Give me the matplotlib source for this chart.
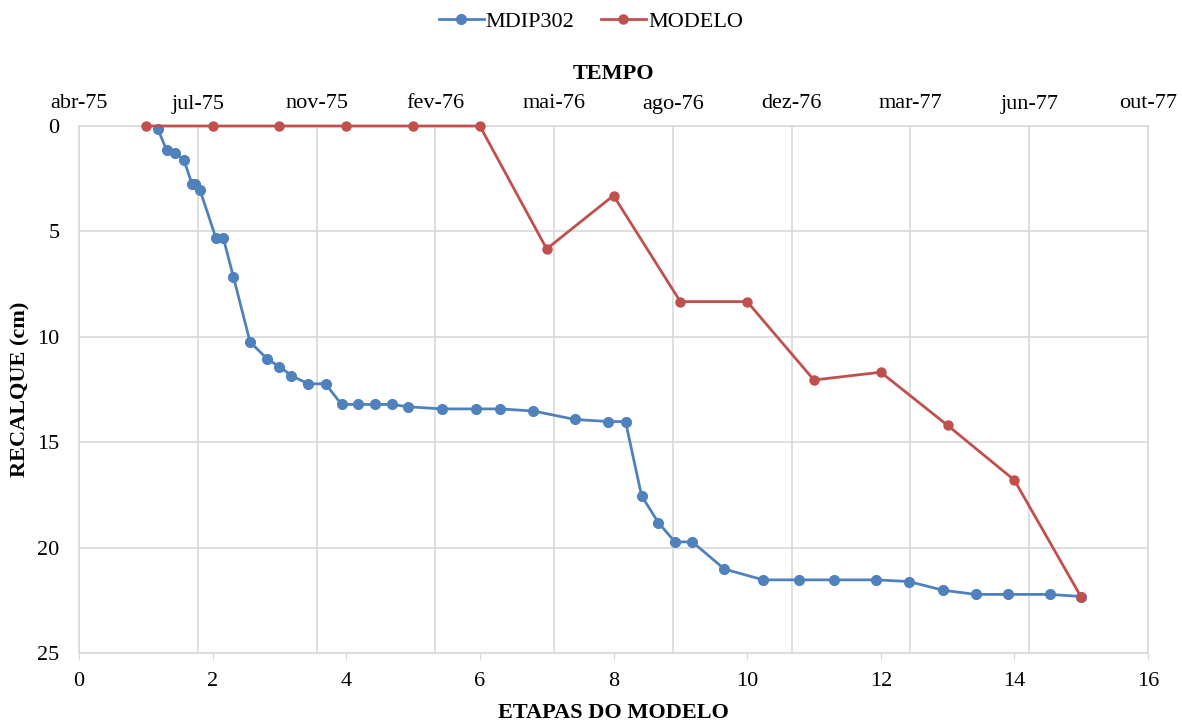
import matplotlib
matplotlib.use("Agg")
import matplotlib.pyplot as plt
import numpy as np

plt.rcParams['font.family'] = ['Liberation Serif', 'DejaVu Serif']

# MDIP302 (measured), x in model-stage units
mdip_x = [1.18, 1.31, 1.44, 1.57, 1.69, 1.74, 1.81, 2.05, 2.16, 2.31, 2.56, 2.81,
          3.00, 3.18, 3.43, 3.69, 3.93, 4.17, 4.43, 4.68, 4.93, 5.43, 5.94, 6.30,
          6.80, 7.42, 7.92, 8.18, 8.42, 8.67, 8.92, 9.18, 9.66, 10.24, 10.78,
          11.30, 11.93, 12.42, 12.93, 13.42, 13.90, 14.53, 15.00]
mdip_y = [0.13, 1.15, 1.30, 1.62, 2.73, 2.73, 3.03, 5.32, 5.32, 7.14, 10.24, 11.03,
          11.42, 11.84, 12.23, 12.23, 13.21, 13.21, 13.21, 13.21, 13.32, 13.42, 13.42, 13.42,
          13.52, 13.92, 14.02, 14.02, 17.54, 18.81, 19.73, 19.73, 21.02, 21.53, 21.53,
          21.53, 21.53, 21.61, 22.02, 22.22, 22.22, 22.22, 22.32]

# MODELO
modelo_x = [1, 2, 3, 4, 5, 6, 7, 8, 9, 10, 11, 12, 13, 14, 15]
modelo_y = [0, 0, 0, 0, 0, 0, 5.83, 3.30, 8.33, 8.33, 12.05, 11.68, 14.20, 16.80, 22.35]

tempo_labels = ['abr-75', 'jul-75', 'nov-75', 'fev-76', 'mai-76', 'ago-76',
                'dez-76', 'mar-77', 'jun-77', 'out-77']

blue = '#4F81BD'
red = '#C0504D'
grid_c = '#D9D9D9'
fs = 16

fig = plt.figure(figsize=(11.82, 7.22), dpi=100)
ax = fig.add_axes([79 / 1182, 1 - 653 / 722, (1148 - 79) / 1182, (653 - 126) / 722])

ax.plot(mdip_x, mdip_y, color=blue, lw=2, marker='o', ms=7, label='MDIP302',
        zorder=3, clip_on=False)
ax.plot(modelo_x, modelo_y, color=red, lw=2, marker='o', ms=6.5, label='MODELO',
        zorder=4, clip_on=False)

ax.set_xlim(0, 16)
ax.set_ylim(25, 0)
ax.set_xticks(np.arange(0, 17, 2))
ax.set_yticks(np.arange(0, 26, 5))
ax.tick_params(axis='x', direction='out', length=5, color=grid_c, labelsize=fs, pad=9)
ax.tick_params(axis='y', length=0, labelsize=fs, pad=14)
ax.yaxis.grid(True, color=grid_c, lw=1.2)
ax.set_axisbelow(True)
for s in ['left', 'bottom', 'right', 'top']:
    ax.spines[s].set_color(grid_c)
    ax.spines[s].set_linewidth(1.2)
    ax.spines[s].set_zorder(1)

ax.set_xlabel('ETAPAS DO MODELO', fontsize=fs, fontweight='bold', labelpad=8)
ax.set_ylabel('RECALQUE (cm)', fontsize=fs, fontweight='bold', labelpad=5)

# top date axis
ax2 = ax.twiny()
ax2.set_xlim(0, 16)
ax2.set_xticks(np.linspace(0, 16, len(tempo_labels)))
ax2.set_xticklabels(tempo_labels)
ax2.tick_params(axis='x', length=0, labelsize=fs, pad=9)
ax2.xaxis.grid(True, color=grid_c, lw=1.2)
ax2.set_axisbelow(True)
ax2.patch.set_visible(False)
for s in ax2.spines.values():
    s.set_visible(False)
ax2.set_xlabel('TEMPO', fontsize=fs, fontweight='bold', labelpad=11)
ax.set_zorder(ax2.get_zorder() + 1)
ax.patch.set_visible(False)

h, l = ax.get_legend_handles_labels()
fig.legend(h, l, loc='upper center', bbox_to_anchor=(0.5, 1.012), ncol=2, frameon=False,
           fontsize=fs, handlelength=2.0, handletextpad=0.1, columnspacing=1.2)

fig.savefig('out.png', dpi=100)
